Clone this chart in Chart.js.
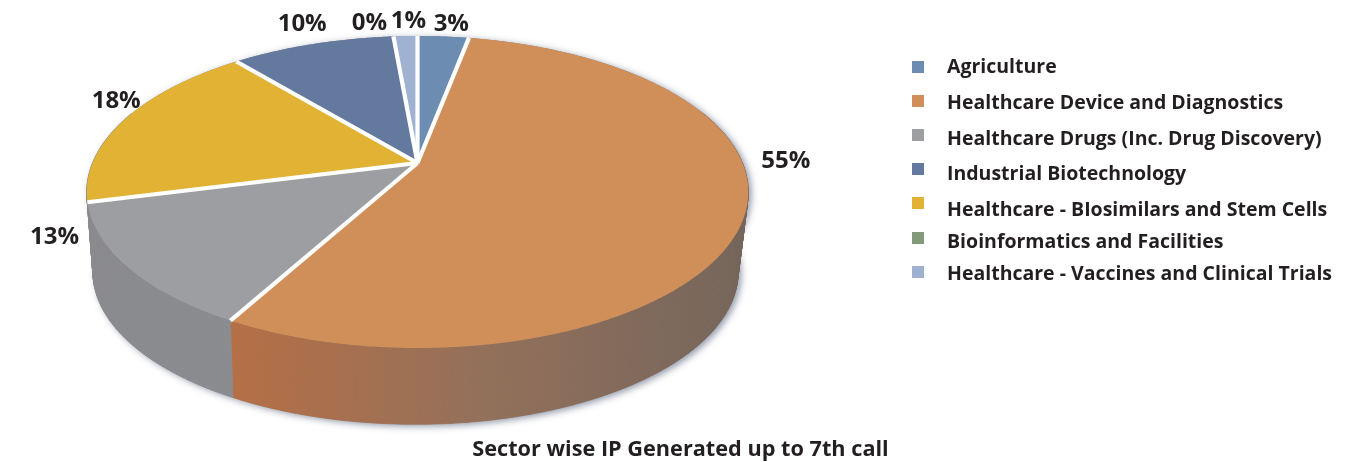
<!DOCTYPE html>
<html><head><meta charset="utf-8">
<style>html,body{margin:0;padding:0;background:#fff}canvas{display:block}</style>
<script src="https://cdn.jsdelivr.net/npm/chart.js@4/dist/chart.umd.min.js"></script>
</head><body>
<canvas id="c" width="1372" height="462"></canvas>
<script>
const categories = ["Agriculture","Healthcare Device and Diagnostics","Healthcare Drugs (Inc. Drug Discovery)","Industrial Biotechnology","Healthcare - BIosimilars and Stem Cells","Bioinformatics and Facilities","Healthcare - Vaccines and Clinical Trials"];
const sharePercent = [3, 55, 13, 9.6, 18, 0, 1.4];
const sliceOrder = [0, 1, 2, 4, 3, 5, 6];
const colors = ["#6c8cb1","#d08e58","#9d9ea1","#64799e","#e1b233","#84997a","#9fb2d2"];
const chartTitle = "Sector wise IP Generated up to 7th call";

/* layout */
const P = {cx:417.5, cy:163, c:-0.186, k:150.6, R:325, bx:415.5, by:243.5, bk:147.2, bR:317};
const FONT = '"Open Sans", "Noto Sans", sans-serif';
const labelOffset = {0:[8,-12],1:[42,-56],2:[-73,-30],4:[-9,-18],3:[-10,-20],5:[-24,-13],6:[3,-15]};
const legendSwatchY = [67,101,135,169,203,238,272];
const legendTextY = [67.5,103.5,139.5,174.5,210.5,242.5,274.5];

function topPt(a){const u=Math.cos(a),v=Math.sin(a),d=1+P.c*v;return [P.cx+P.R*u/d,P.cy+P.k*v/d];}
function lowPt(a){const u=Math.cos(a),v=Math.sin(a),d=1+P.c*v;return [P.bx+P.bR*u/d,P.by+P.bk*v/d];}

const order = sliceOrder;
const pseudo3d = {
  id:'pseudo3d',
  beforeDatasetsDraw(chart){
    const ctx=chart.ctx, arcs=chart.getDatasetMeta(0).data;
    const N=720, step=2*Math.PI/N;
    ctx.save();
    // soft shadow under whole body
    ctx.save();
    ctx.shadowColor='rgba(85,95,120,0.65)';ctx.shadowBlur=7;ctx.shadowOffsetX=3;ctx.shadowOffsetY=2;
    ctx.fillStyle='#8b8c8f';
    ctx.beginPath();
    for(let i=0;i<=N;i++){const p=lowPt(i*step);i?ctx.lineTo(p[0],p[1]):ctx.moveTo(p[0],p[1]);}
    ctx.closePath();ctx.fill();
    ctx.beginPath();
    for(let i=0;i<=N;i++){const p=topPt(i*step);i?ctx.lineTo(p[0],p[1]):ctx.moveTo(p[0],p[1]);}
    ctx.closePath();ctx.fill();
    ctx.restore();
    // side walls
    const grad=ctx.createLinearGradient(232,0,742,0);
    grad.addColorStop(0,'#b66f45');grad.addColorStop(0.5,'#93705a');grad.addColorStop(1,'#75655a');
    arcs.forEach((arc,idx)=>{
      const cat=order[idx];
      if(arc.endAngle-arc.startAngle<=0) return;
      const side = cat===1 ? grad : '#8b8c8f';
      ctx.fillStyle=side;ctx.strokeStyle=side;ctx.lineWidth=0.6;
      const n=Math.max(2,Math.ceil((arc.endAngle-arc.startAngle)/step));
      for(let i=0;i<n;i++){
        const a0=arc.startAngle+(arc.endAngle-arc.startAngle)*i/n;
        const a1=arc.startAngle+(arc.endAngle-arc.startAngle)*(i+1)/n;
        if(Math.sin(a0)<-0.35&&Math.sin(a1)<-0.35) continue;
        const A=topPt(a0),B=topPt(a1),C=lowPt(a1),D=lowPt(a0);
        ctx.beginPath();ctx.moveTo(A[0],A[1]);ctx.lineTo(B[0],B[1]);ctx.lineTo(C[0],C[1]);ctx.lineTo(D[0],D[1]);ctx.closePath();
        ctx.fill();ctx.stroke();
      }
    });
    // top face
    arcs.forEach((arc,idx)=>{
      const cat=order[idx];
      if(arc.endAngle-arc.startAngle<=0) return;
      ctx.fillStyle=colors[cat];
      ctx.beginPath();ctx.moveTo(P.cx,P.cy);
      const n=Math.max(2,Math.ceil((arc.endAngle-arc.startAngle)/step));
      for(let i=0;i<=n;i++){const p=topPt(arc.startAngle+(arc.endAngle-arc.startAngle)*i/n);ctx.lineTo(p[0],p[1]);}
      ctx.closePath();ctx.fill();
    });
    // white separators
    ctx.strokeStyle='#fff';ctx.lineWidth=4.2;ctx.lineCap='butt';
    arcs.forEach((arc,idx)=>{
      if(order[idx]===5) return;
      const p=topPt(arc.startAngle);
      ctx.beginPath();ctx.moveTo(P.cx,P.cy);ctx.lineTo(p[0],p[1]);ctx.stroke();
    });
    ctx.restore();
    return false;
  },
  afterDraw(chart){
    const ctx=chart.ctx, arcs=chart.getDatasetMeta(0).data;
    ctx.save();
    ctx.fillStyle='#231f20';ctx.textBaseline='middle';
    // value labels
    ctx.textAlign='center';ctx.font='700 24px '+FONT;
    arcs.forEach((arc,idx)=>{
      const cat=order[idx];
      const p=topPt((arc.startAngle+arc.endAngle)/2), o=labelOffset[cat];
      ctx.fillText(Math.round(sharePercent[cat])+'%',p[0]+o[0],p[1]+o[1]);
    });
    // legend
    categories.forEach((name,i)=>{
      ctx.fillStyle=colors[i];ctx.fillRect(912,legendSwatchY[i]-6,12,12);
      ctx.fillStyle='#231f20';ctx.textAlign='left';ctx.font='700 19.5px '+FONT;
      ctx.fillText(name,947,legendTextY[i]);
    });
    // caption
    ctx.textAlign='center';ctx.font='700 21.7px '+FONT;
    ctx.fillText(chartTitle,680.5,450);
    ctx.restore();
  }
};

new Chart(document.getElementById('c'),{
  type:'pie',
  data:{labels:order.map(i=>categories[i]),datasets:[{data:order.map(i=>sharePercent[i]),backgroundColor:order.map(i=>colors[i])}]},
  options:{responsive:false,animation:false,events:[],plugins:{legend:{display:false},tooltip:{enabled:false}}},
  plugins:[pseudo3d]
});
</script>
</body></html>
